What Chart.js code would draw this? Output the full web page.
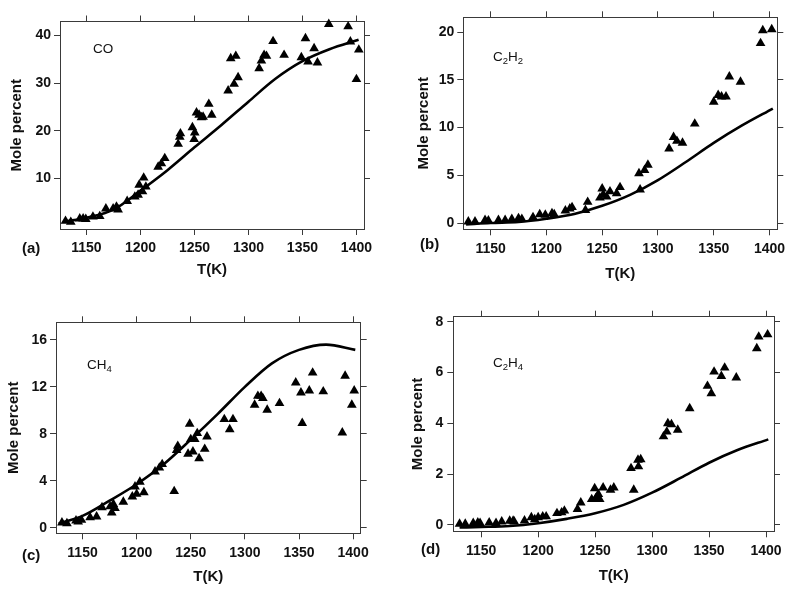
<!DOCTYPE html>
<html><head><meta charset="utf-8">
<script src="https://cdn.jsdelivr.net/npm/chart.js@4/dist/chart.umd.min.js"></script>
<style>
body{margin:0;background:#fff;width:800px;height:596px;position:relative;overflow:hidden;font-family:"Liberation Sans",Arial,sans-serif}
canvas{position:absolute}
.lab{position:absolute;font-weight:bold;font-size:15px;line-height:18px;color:#111;white-space:nowrap}
.sp{position:absolute;font-size:13.5px;line-height:16px;color:#111;white-space:nowrap}
.sp sub{font-size:9.5px;vertical-align:-3px;line-height:0}
</style></head><body>
<canvas id="ca" width="400" height="300" style="left:0;top:0"></canvas>
<canvas id="cb" width="400" height="300" style="left:400px;top:0"></canvas>
<canvas id="cc" width="400" height="296" style="left:0;top:300px"></canvas>
<canvas id="cd" width="400" height="296" style="left:400px;top:300px"></canvas>
<div class="lab" style="left:22px;top:239px">(a)</div>
<div class="lab" style="left:420px;top:235px">(b)</div>
<div class="lab" style="left:22px;top:546px">(c)</div>
<div class="lab" style="left:421px;top:540px">(d)</div>
<div class="sp" style="left:93px;top:41px">CO</div>
<div class="sp" style="left:493px;top:49px">C<sub>2</sub>H<sub>2</sub></div>
<div class="sp" style="left:87px;top:357px">CH<sub>4</sub></div>
<div class="sp" style="left:493px;top:355px">C<sub>2</sub>H<sub>4</sub></div>
<script>
// ---------- data ----------
const xTicks = [1150, 1200, 1250, 1300, 1350, 1400];

const coT = [1130.6,1135.5,1143.8,1146.9,1149.4,1156,1162.3,1168,1174.7,1177.8,1179.3,1187.7,1194.8,1197.8,1198.8,1201.9,1203,1205,1216.4,1219.4,1222.5,1234.9,1236.4,1237,1248.1,1249.7,1250.3,1251.9,1254.3,1256.5,1258,1263.3,1266,1281.2,1283.6,1286.7,1288.3,1290.4,1309.9,1312,1314.5,1316.7,1322.8,1333,1349,1352.8,1355.2,1360.8,1363.9,1374.4,1392.3,1394.4,1400,1402.2];
const coVal = [1.0,0.8,1.5,1.5,1.4,1.9,2.0,3.6,3.6,4.0,3.4,5.2,6.1,6.5,8.6,7.2,10.1,8.2,12.4,13.1,14.2,17.2,18.7,19.4,20.7,18.2,19.6,23.8,23.3,22.8,22.9,25.6,23.3,28.4,35.2,29.8,35.7,31.2,33.1,34.7,35.9,35.7,38.8,35.9,35.4,39.4,34.5,37.3,34.3,42.4,41.9,38.7,30.8,37.0];
const coLineT = [1130,1150,1175,1200,1225,1250,1275,1300,1325,1350,1375,1402];
const coLineV = [0.9,1.7,3.4,7.4,11.7,16.5,21.2,26.1,30.9,34.6,37.1,39.1];
const coTicks = [10,20,30,40];

const c2h2T = [1130,1136,1145,1148,1157,1163,1169,1175,1178,1188,1194,1199,1205,1207,1217,1221,1223,1235,1237,1248,1250,1251,1254,1257,1263,1266,1283,1284,1288,1291,1310,1314,1317,1322,1333,1350,1354,1357,1361,1364,1374,1392,1394,1402];
const c2h2Val = [0.15,0.15,0.3,0.25,0.3,0.3,0.4,0.5,0.4,0.6,0.9,0.85,1.0,0.9,1.3,1.5,1.65,1.35,2.2,2.65,3.6,3.0,2.75,3.3,3.1,3.75,5.2,3.5,5.55,6.1,7.8,9.0,8.6,8.4,10.4,12.7,13.4,13.25,13.25,15.35,14.8,18.85,20.2,20.3];
const c2h2LineT = [1128,1150,1175,1200,1225,1250,1275,1300,1325,1350,1375,1403];
const c2h2LineV = [-0.15,0.0,0.1,0.45,0.95,1.8,2.95,4.5,6.4,8.4,10.2,12.0];
const c2h2Ticks = [0,5,10,15,20];

const ch4T = [1131,1135.6,1144,1146,1149,1157,1163,1168,1175.5,1177,1178.5,1180,1187.7,1196,1198.5,1200,1203,1206.7,1217,1221,1223.6,1234.7,1237,1238,1247.5,1249,1250,1252,1253.7,1256,1257.7,1262.9,1265,1281,1286,1289,1309,1312,1315,1316.6,1320.6,1332,1347,1351.8,1353,1359.5,1362.6,1372.4,1390,1392.6,1398.8,1401];
const ch4Val = [0.43,0.37,0.6,0.5,0.65,0.88,0.94,1.73,1.8,1.28,2.0,1.65,2.2,2.64,3.5,2.87,3.9,3.0,4.77,5.1,5.4,3.1,6.6,6.96,6.28,8.84,7.53,6.48,7.53,8.04,5.9,6.7,7.76,9.24,8.38,9.24,10.46,11.22,11.22,11.03,10.03,10.6,12.36,11.5,8.9,11.68,13.2,11.6,8.1,12.93,10.46,11.68];
const ch4LineT = [1128,1150,1175,1200,1225,1250,1275,1300,1325,1350,1375,1402];
const ch4LineV = [0.35,1.0,2.3,3.7,5.4,7.5,9.7,12.0,14.0,15.15,15.6,15.15];
const ch4Ticks = [0,4,8,12,16];

const c2h4T = [1131,1136,1143,1147,1149,1157,1163,1168,1175,1178,1179,1188,1194,1197,1200,1204,1207,1216.5,1220.6,1223,1234.5,1237.4,1247,1249.6,1250.5,1252.8,1254,1257,1263.5,1266.4,1281.5,1283.9,1287.6,1288,1290,1310,1312.9,1313.8,1317,1322.5,1333,1348.6,1352,1354.4,1360.8,1363.7,1373.9,1391.9,1393.6,1401.4];
const c2h4Val = [0.04,0.04,0.07,0.09,0.07,0.09,0.07,0.13,0.16,0.16,0.13,0.17,0.30,0.22,0.30,0.33,0.33,0.46,0.49,0.56,0.62,0.88,1.01,1.44,1.05,1.21,1.01,1.47,1.38,1.47,2.23,1.38,2.56,2.3,2.58,3.48,3.67,4.0,3.96,3.74,4.59,5.47,5.18,6.03,5.86,6.19,5.8,6.95,7.41,7.5];
const c2h4LineT = [1131,1150,1175,1200,1225,1250,1275,1300,1325,1350,1375,1402];
const c2h4LineV = [-0.1,-0.08,-0.04,0.07,0.24,0.46,0.79,1.27,1.85,2.45,2.95,3.37];
const c2h4Ticks = [0,2,4,6,8];

// ---------- drawing ----------
const FAM = '"Liberation Sans", Arial, sans-serif';
const AX = '#3a3a3a';
const pts = (xs, ys) => xs.map((x, i) => ({x, y: ys[i]}));

function makeChart(id, o) {
  const setTicks = vals => s => { s.ticks = vals.map(v => ({value: v})); };
  const gridOpt = {drawOnChartArea: false, drawTicks: true, tickLength: 6, color: AX, lineWidth: 1};
  const borderOpt = {display: true, color: AX, width: 1};
  new Chart(document.getElementById(id), {
    type: 'scatter',
    data: {datasets: [
      {data: pts(o.lineT, o.lineV), showLine: true, borderColor: '#000', borderWidth: 2.6,
       pointRadius: 0, cubicInterpolationMode: 'monotone', fill: false},
      {data: pts(o.t, o.v), pointStyle: 'triangle', pointRadius: 5.6, backgroundColor: '#000',
       borderWidth: 0, showLine: false, clip: false}
    ]},
    options: {
      responsive: false, animation: false, devicePixelRatio: 1,
      layout: {padding: 0},
      plugins: {legend: {display: false}, tooltip: {enabled: false}},
      scales: {
        x: {type: 'linear', position: 'bottom', min: 1125.5, max: 1407,
            afterBuildTicks: setTicks(xTicks), afterFit: s => { s.height = o.bottom; },
            grid: gridOpt, border: borderOpt,
            ticks: {font: {family: FAM, size: 14, weight: 'bold'}, color: '#111', padding: o.xPad,
                    maxRotation: 0, autoSkip: false, callback: v => String(v)},
            title: {display: true, text: 'T(K)', color: '#111',
                    font: {family: FAM, size: 15, weight: 'bold'}, padding: {top: 0, bottom: o.xTitle}}},
        x2: {type: 'linear', position: 'top', min: 1125.5, max: 1407,
            afterBuildTicks: setTicks(xTicks), afterFit: s => { s.height = o.top; },
            grid: gridOpt, border: borderOpt, ticks: {display: false}},
        y: {type: 'linear', position: 'left', min: o.yMin, max: o.yMax,
            afterBuildTicks: setTicks(o.yTicks), afterFit: s => { s.width = o.left; },
            grid: gridOpt, border: borderOpt,
            ticks: {font: {family: FAM, size: 14, weight: 'bold'}, color: '#111', padding: o.yPad,
                    autoSkip: false, callback: v => String(v)},
            title: {display: true, text: 'Mole percent', color: '#111',
                    font: {family: FAM, size: 15, weight: 'bold'}, padding: {top: o.yTitle, bottom: 0}}},
        y2: {type: 'linear', position: 'right', min: o.yMin, max: o.yMax,
            afterBuildTicks: setTicks(o.yTicks), afterFit: s => { s.width = o.right; },
            grid: gridOpt, border: borderOpt, ticks: {display: false}}
      }
    }
  });
}

makeChart('ca', {t: coT, v: coVal, lineT: coLineT, lineV: coLineV, yTicks: coTicks,
  yMin: -0.67, yMax: 42.95, left: 60, right: 36, top: 21.5, bottom: 71,
  xPad: 5, yPad: 3, xTitle: 21, yTitle: 8});
makeChart('cb', {t: c2h2T, v: c2h2Val, lineT: c2h2LineT, lineV: c2h2LineV, yTicks: c2h2Ticks,
  yMin: -0.66, yMax: 21.57, left: 63.3, right: 22.7, top: 17.3, bottom: 70.7,
  xPad: 5, yPad: 3, xTitle: 17, yTitle: 14.5});
makeChart('cc', {t: ch4T, v: ch4Val, lineT: ch4LineT, lineV: ch4LineV, yTicks: ch4Ticks,
  yMin: -0.48, yMax: 17.5, left: 56, right: 39.3, top: 22.3, bottom: 62.7,
  xPad: 5, yPad: 3, xTitle: 10, yTitle: 5});
makeChart('cd', {t: c2h4T, v: c2h4Val, lineT: c2h4LineT, lineV: c2h4LineV, yTicks: c2h4Ticks,
  yMin: -0.25, yMax: 8.2, left: 53.3, right: 26, top: 16.7, bottom: 64.7,
  xPad: 5, yPad: 4, xTitle: 11, yTitle: 8.5});
</script>
</body></html>
